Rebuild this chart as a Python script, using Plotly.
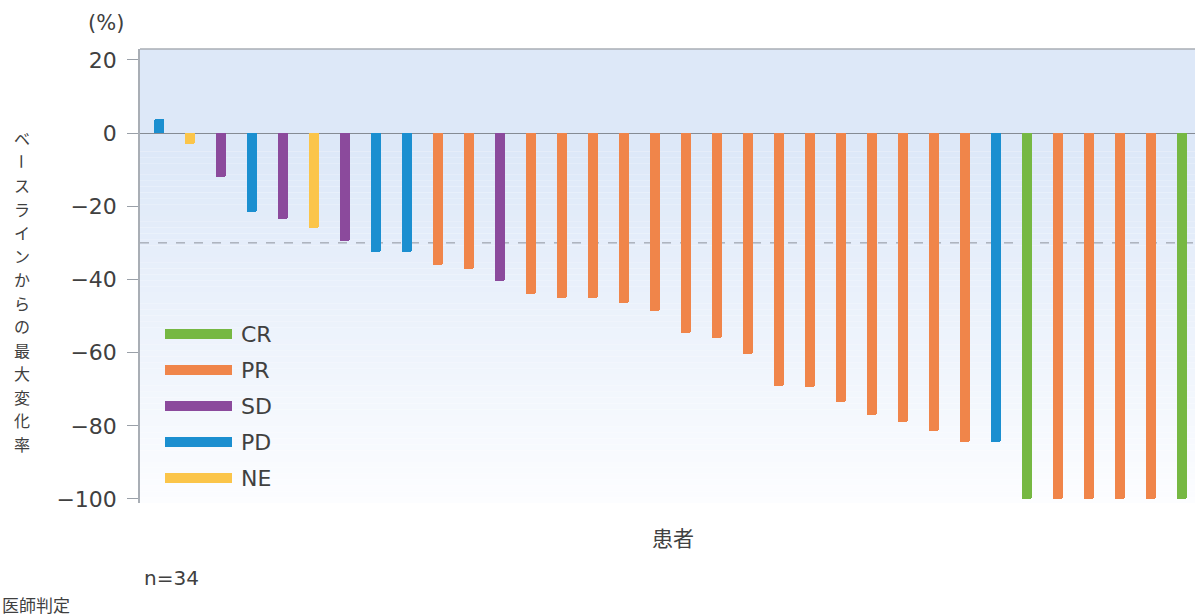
import plotly.graph_objects as go

# ---- data ----
patients = list(range(1, 35))
best_change = [4, -3, -12, -21.5, -23.5, -26, -29.5, -32.5, -32.5, -36,
               -37, -40.5, -44, -45, -45, -46.5, -48.5, -54.5, -56, -60.5,
               -69, -69.5, -73.5, -77, -79, -81.5, -84.5, -84.5, -100, -100,
               -100, -100, -100, -100]
response = ["PD", "NE", "SD", "PD", "SD", "NE", "SD", "PD", "PD", "PR",
            "PR", "SD", "PR", "PR", "PR", "PR", "PR", "PR", "PR", "PR",
            "PR", "PR", "PR", "PR", "PR", "PR", "PR", "PD", "CR", "PR",
            "PR", "PR", "PR", "CR"]
categories = ["CR", "PR", "SD", "PD", "NE"]
y_ticks = [20, 0, -20, -40, -60, -80, -100]
threshold = -30
y_title = "ベースラインからの最大変化率"
x_title = "患者"
n_label = "n=34"
note = "医師判定"

colors = {"CR": "#76b843", "PR": "#f0854a", "SD": "#8b4a9c",
          "PD": "#1b8fd0", "NE": "#fbc54a"}

W, H = 1195, 616
L, R, T, B = 140, 0, 49, 113
PW, PH = W - L - R, H - T - B
FONT = "DejaVu Sans, Noto Sans CJK JP, sans-serif"
JFONT = "Noto Sans CJK JP, sans-serif"
TXT = "#404040"


def px_x(px):
    return (px - L) / PW


def px_y(py):
    return (H - B - py) / PH


fig = go.Figure()
xs = [i for i in range(len(patients))]
for cat in categories:
    idx = [i for i, r in enumerate(response) if r == cat]
    fig.add_trace(go.Bar(
        x=[xs[i] for i in idx], y=[best_change[i] for i in idx],
        name=cat, marker=dict(color=colors[cat], line=dict(width=0), cornerradius=2),
        width=0.34, showlegend=False))

shapes = []
# gradient background
y_top, y_bot = 23.0, -101.1
solid_until = -5.0
top_rgb = (221, 232, 248)
bot_rgb = (252, 253, 255)
shapes.append(dict(type="rect", xref="paper", yref="y", x0=0, x1=1,
                   y0=solid_until, y1=y_top, fillcolor="rgb(%d,%d,%d)" % top_rgb,
                   line=dict(width=0), layer="below"))
N = 60
for k in range(N):
    a = solid_until + (y_bot - solid_until) * k / N
    b = solid_until + (y_bot - solid_until) * (k + 1) / N
    t = (k + 0.5) / N
    c = tuple(round(top_rgb[j] + (bot_rgb[j] - top_rgb[j]) * t) for j in range(3))
    shapes.append(dict(type="rect", xref="paper", yref="y", x0=0, x1=1,
                       y0=b, y1=a, fillcolor="rgb(%d,%d,%d)" % c,
                       line=dict(width=0), layer="below"))
# threshold dashed line
shapes.append(dict(type="line", xref="paper", yref="y", x0=0, x1=1,
                   y0=threshold, y1=threshold,
                   line=dict(color="#8d939c", width=1, dash="dash"), layer="below"))
# top border
shapes.append(dict(type="line", xref="paper", yref="paper", x0=0, x1=1, y0=1, y1=1,
                   line=dict(color="#a9aeb5", width=1.5)))

annotations = []
# legend (manual)
leg_rows = [334, 370, 406, 442, 478]
for cat, ry in zip(categories, leg_rows):
    shapes.append(dict(type="rect", xref="paper", yref="paper",
                       x0=px_x(165), x1=px_x(232), y0=px_y(ry + 5), y1=px_y(ry - 5),
                       fillcolor=colors[cat], line=dict(width=0)))
    annotations.append(dict(text=cat, xref="paper", yref="paper", x=px_x(239),
                            y=px_y(ry), xanchor="left", yanchor="middle",
                            showarrow=False, font=dict(size=22, color=TXT, family=FONT)))

# vertical y-axis title: one upright character per annotation
pitch = 23.5
start = 138
for k, ch in enumerate(y_title):
    annotations.append(dict(text=ch, xref="paper", yref="paper", x=px_x(22),
                            y=px_y(start + k * pitch), xanchor="center", yanchor="middle",
                            textangle=90 if ch == "ー" else 0, borderpad=0,
                            showarrow=False, font=dict(size=16, color=TXT, family=JFONT)))

annotations += [
    dict(text="(%)", xref="paper", yref="paper", x=px_x(106), y=px_y(23),
         xanchor="center", yanchor="middle", showarrow=False,
         font=dict(size=21, color=TXT, family=FONT)),
    dict(text=x_title, xref="paper", yref="paper", x=px_x(673), y=px_y(537),
         xanchor="center", yanchor="middle", showarrow=False,
         font=dict(size=21, color=TXT, family=JFONT)),
    dict(text=n_label, xref="paper", yref="paper", x=px_x(171), y=px_y(578),
         xanchor="center", yanchor="middle", showarrow=False,
         font=dict(size=20, color=TXT, family=FONT)),
    dict(text=note, xref="paper", yref="paper", x=px_x(0), y=px_y(604),
         xanchor="left", yanchor="middle", showarrow=False,
         font=dict(size=17, color=TXT, family=JFONT)),
]

fig.update_layout(
    width=W, height=H,
    margin=dict(l=L, r=R, t=T, b=B, pad=0),
    paper_bgcolor="white", plot_bgcolor="white",
    bargap=0, showlegend=False,
    shapes=shapes, annotations=annotations,
    font=dict(family=FONT, color=TXT),
)
fig.update_xaxes(range=[-0.613, 33.42], showticklabels=False, ticks="",
                 showgrid=False, zeroline=False, showline=False)
fig.update_yaxes(range=[y_bot, y_top], tickvals=y_ticks, ticks="outside",
                 ticklen=11, tickcolor="#9aa0a8", tickwidth=1.2,
                 showline=True, linecolor="#a9aeb5", linewidth=1.5,
                 showgrid=False, zeroline=True, zerolinecolor="#858b94",
                 zerolinewidth=1.2, tickfont=dict(size=22, color=TXT, family=FONT),
                 ticklabelstandoff=6)

fig.write_html("out.html", config={"displayModeBar": False},
               post_script="document.body.style.margin='0px';")
